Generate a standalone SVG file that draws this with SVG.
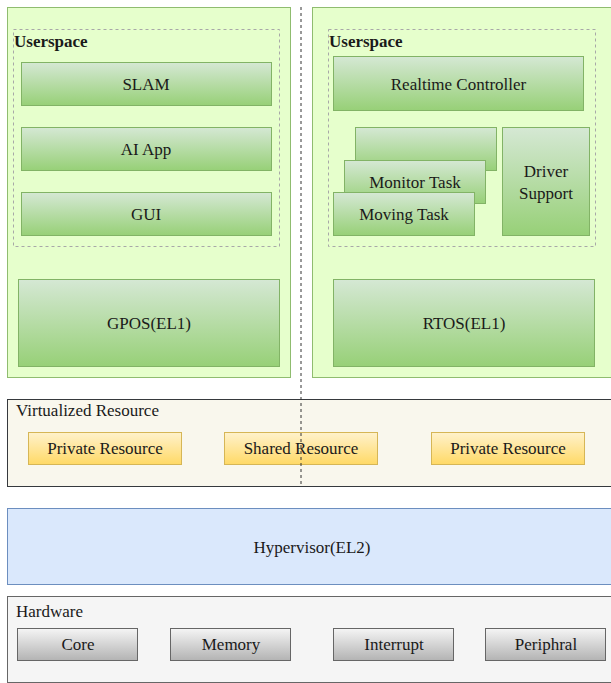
<svg xmlns="http://www.w3.org/2000/svg" width="611" height="683" viewBox="0 0 611 683">
<defs>
<linearGradient id="gGreen" x1="0" y1="0" x2="0" y2="1"><stop offset="0" stop-color="#d5e8d4"/><stop offset="1" stop-color="#97d077"/></linearGradient>
<linearGradient id="gYellow" x1="0" y1="0" x2="0" y2="1"><stop offset="0" stop-color="#fff2cc"/><stop offset="1" stop-color="#ffd966"/></linearGradient>
<linearGradient id="gGray" x1="0" y1="0" x2="0" y2="1"><stop offset="0" stop-color="#f5f5f5"/><stop offset="1" stop-color="#b3b3b3"/></linearGradient>
</defs>
<style>
text{font-family:'Liberation Serif','DejaVu Serif',serif;font-size:17px;fill:#1a1a1a}
.c{text-anchor:middle}
.b{font-weight:bold}
.outer{fill:#e6ffcc;stroke:#8fbc6f;stroke-width:1}
.us{fill:none;stroke:#a8a8a8;stroke-width:1;stroke-dasharray:3 3}
.gn{fill:url(#gGreen);stroke:#82b366;stroke-width:1}
.yl{fill:url(#gYellow);stroke:#d6b656;stroke-width:1}
.gy{fill:url(#gGray);stroke:#666666;stroke-width:1}
</style>
<g font-family="Liberation Serif, DejaVu Serif, serif">
<g id="gpos-domain">
<rect class="outer" x="7.5" y="7.5" width="283" height="370"/>
<rect class="us" x="13.5" y="29.5" width="266" height="217"/>
<text class="b" x="14" y="47">Userspace</text>
</g>
<g id="slam"><rect class="gn" x="21.5" y="62.5" width="250" height="43"/><text class="c" x="146" y="90">SLAM</text></g>
<g id="ai-app"><rect class="gn" x="21.5" y="127.5" width="250" height="43"/><text class="c" x="146" y="155">AI App</text></g>
<g id="gui"><rect class="gn" x="21.5" y="192.5" width="250" height="43"/><text class="c" x="146" y="220">GUI</text></g>
<g id="gpos"><rect class="gn" x="18.5" y="279.5" width="261" height="87"/><text class="c" x="149" y="329">GPOS(EL1)</text></g>

<g id="rtos-domain">
<rect class="outer" x="312.5" y="7.5" width="310" height="370"/>
<rect class="us" x="328.5" y="29.5" width="267" height="217"/>
<text class="b" x="329" y="47">Userspace</text>
</g>
<g id="realtime-controller"><rect class="gn" x="333.5" y="56.5" width="250" height="54"/><text class="c" x="458.5" y="90">Realtime Controller</text></g>
<g id="task-back"><rect class="gn" x="355.5" y="127.5" width="141" height="43"/></g>
<g id="monitor-task"><rect class="gn" x="344.5" y="160.5" width="141" height="43"/><text class="c" x="415" y="188">Monitor Task</text></g>
<g id="moving-task"><rect class="gn" x="333.5" y="192.5" width="141" height="43"/><text class="c" x="404" y="220">Moving Task</text></g>
<g id="driver-support"><rect class="gn" x="502.5" y="127.5" width="87" height="108"/><text class="c" x="546" y="177">Driver</text><text class="c" x="546" y="199">Support</text></g>
<g id="rtos"><rect class="gn" x="333.5" y="279.5" width="261" height="87"/><text class="c" x="464" y="329">RTOS(EL1)</text></g>

<g id="virtualized-resource">
<rect x="7.5" y="399.5" width="620" height="87" fill="#f9f7ed" stroke="#36393d"/>
<text x="16" y="416">Virtualized Resource</text>
</g>
<g id="private-resource-1"><rect class="yl" x="28.5" y="432.5" width="153" height="32"/><text class="c" x="105" y="454">Private Resource</text></g>
<g id="shared-resource"><rect class="yl" x="224.5" y="432.5" width="153" height="32"/><text class="c" x="301" y="454">Shared Resource</text></g>
<g id="private-resource-2"><rect class="yl" x="431.5" y="432.5" width="153" height="32"/><text class="c" x="508" y="454">Private Resource</text></g>

<g id="hypervisor"><rect x="7.5" y="508.5" width="620" height="76" fill="#dae8fc" stroke="#6c8ebf"/><text class="c" x="312" y="553">Hypervisor(EL2)</text></g>

<g id="hardware">
<rect x="7.5" y="596.5" width="620" height="86" fill="#f5f5f5" stroke="#666666"/>
<text x="16" y="617">Hardware</text>
</g>
<g id="core"><rect class="gy" x="17.5" y="628.5" width="120" height="32"/><text class="c" x="78" y="650">Core</text></g>
<g id="memory"><rect class="gy" x="170.5" y="628.5" width="120" height="32"/><text class="c" x="231" y="650">Memory</text></g>
<g id="interrupt"><rect class="gy" x="333.5" y="628.5" width="120" height="32"/><text class="c" x="394" y="650">Interrupt</text></g>
<g id="peripheral"><rect class="gy" x="485.5" y="628.5" width="120" height="32"/><text class="c" x="546" y="650">Periphral</text></g>
</g>
<g id="connectors">
<line x1="301" y1="7" x2="301" y2="487" stroke="#333333" stroke-width="1" stroke-dasharray="3 3"/>
</g>
</svg>
